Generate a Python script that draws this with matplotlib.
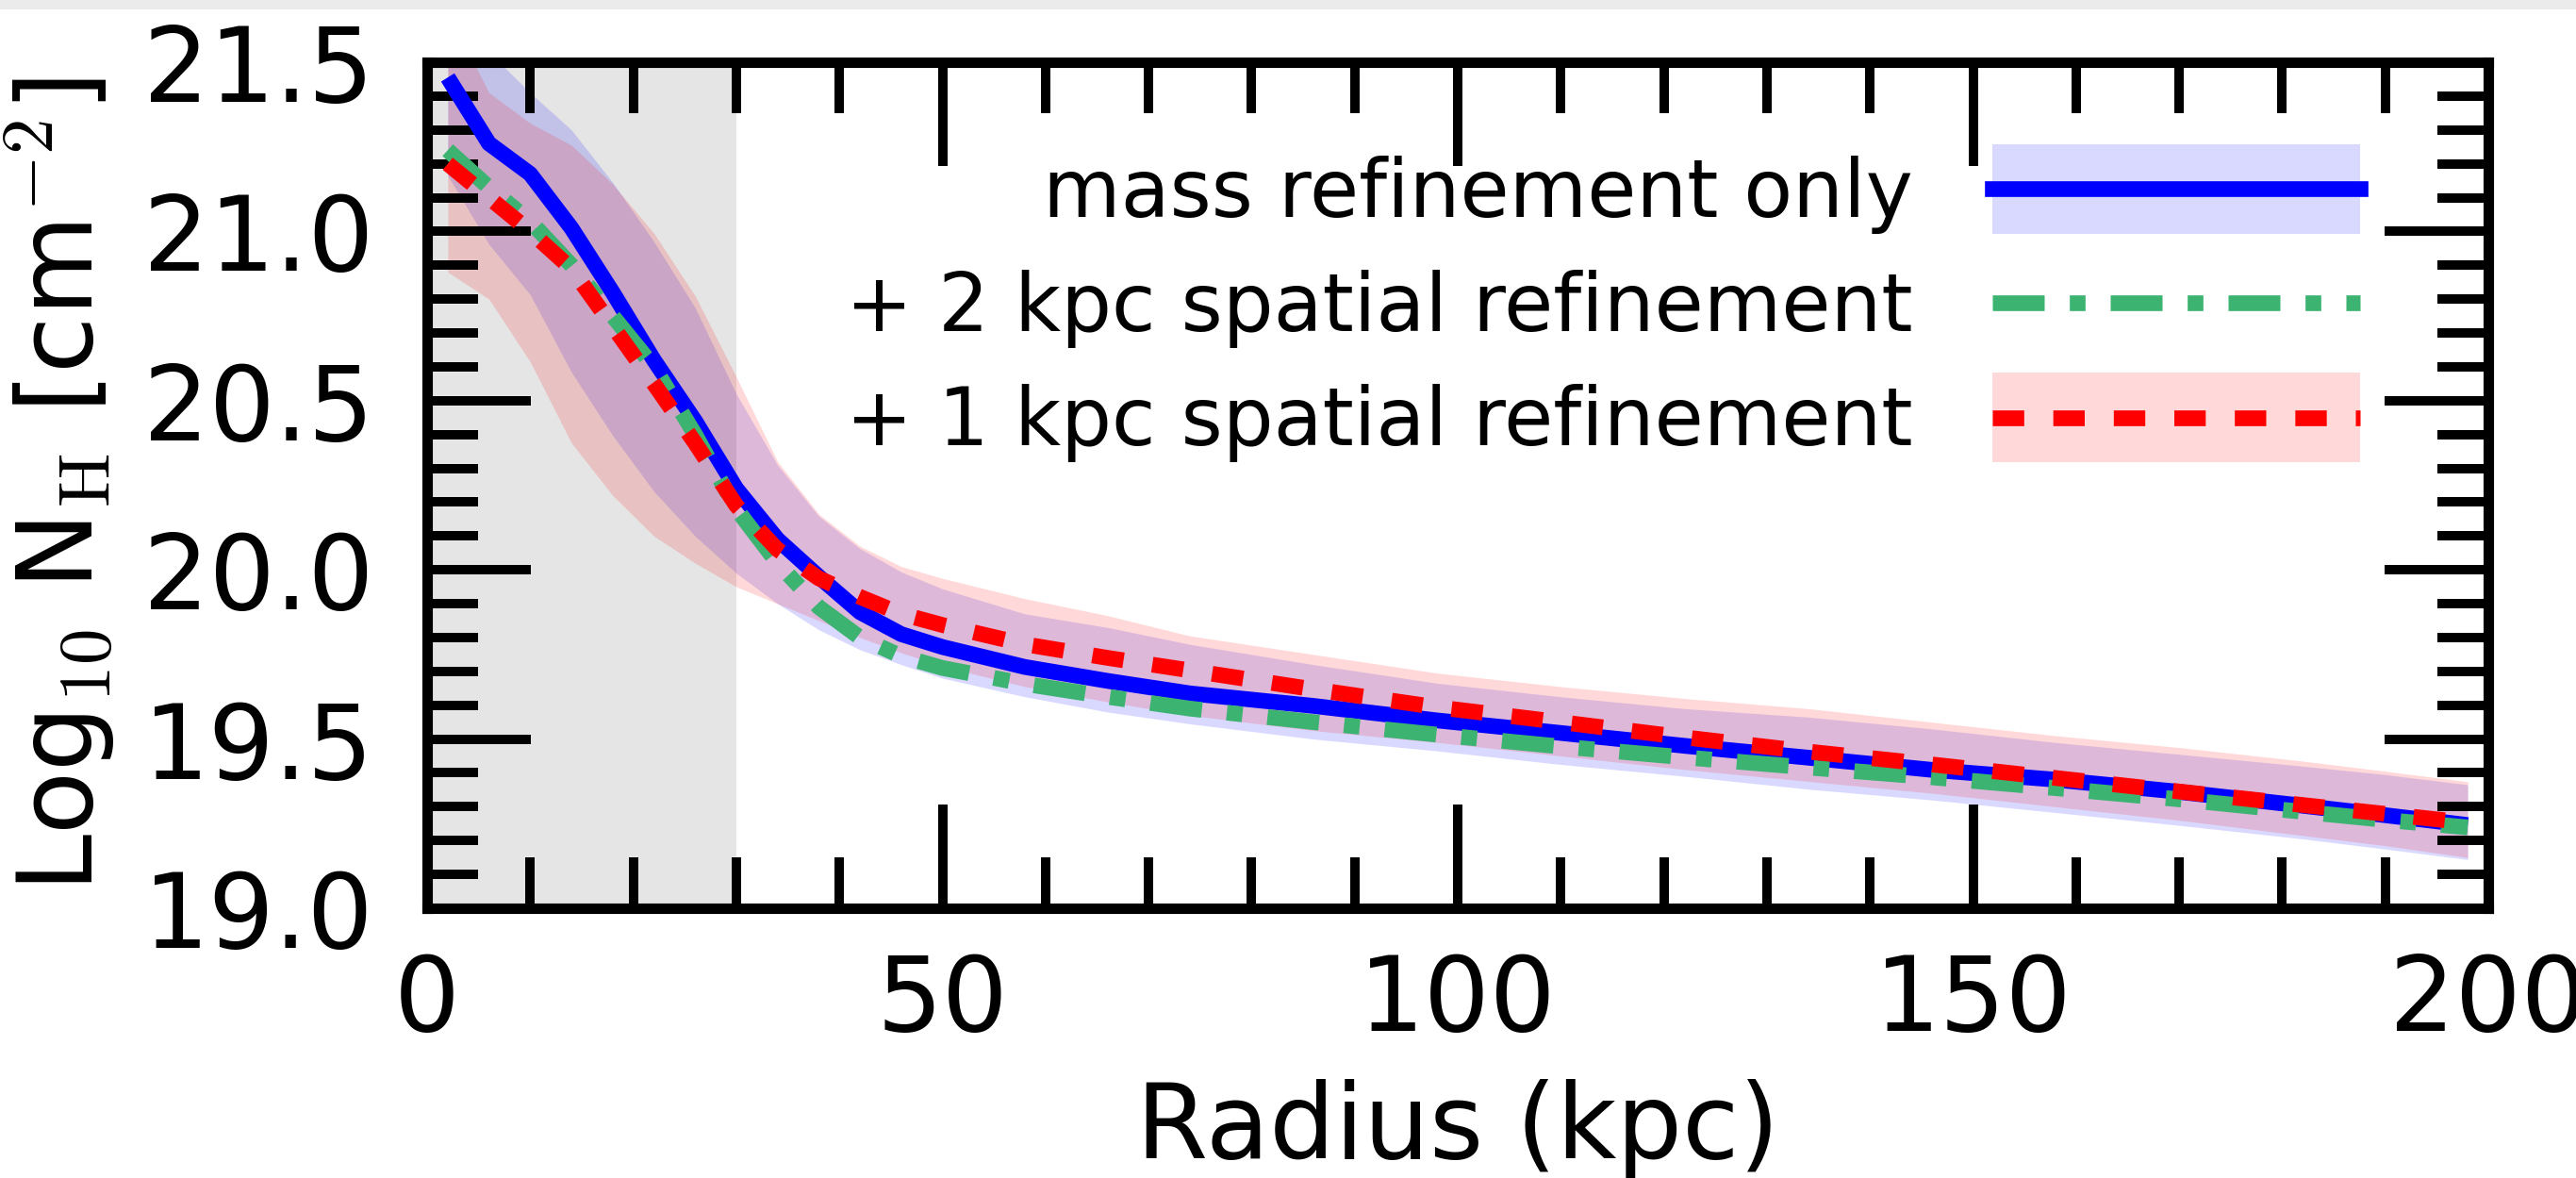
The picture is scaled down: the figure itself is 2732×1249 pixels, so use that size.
import matplotlib
matplotlib.use('Agg')
import matplotlib.pyplot as plt
import matplotlib.patches as mpatches
from matplotlib.lines import Line2D
from matplotlib.ticker import MultipleLocator, FormatStrFormatter
from matplotlib.legend_handler import HandlerPatch, HandlerTuple

# ---------------- data ----------------
radius = [2, 6, 10, 14, 18, 22, 26, 30, 34, 38, 42, 46, 50, 58, 66, 74,
          86, 98, 110, 122, 134, 146, 158, 170, 182, 190, 198]

mass_mean = [21.455, 21.26, 21.17, 21.01, 20.82, 20.62, 20.44, 20.24, 20.09,
             19.98, 19.875, 19.81, 19.772, 19.713, 19.672, 19.635, 19.598,
             19.555, 19.518, 19.48, 19.445, 19.409, 19.38, 19.344, 19.303,
             19.275, 19.246]
mass_hi = [21.60, 21.53, 21.41, 21.30, 21.145, 20.97, 20.775, 20.52, 20.31,
           20.159, 20.063, 19.994, 19.944, 19.87, 19.83, 19.78, 19.72, 19.665,
           19.625, 19.59, 19.565, 19.53, 19.49, 19.455, 19.42, 19.395, 19.365]
mass_lo = [21.165, 20.962, 20.813, 20.584, 20.397, 20.232, 20.10, 19.99, 19.90,
           19.823, 19.764, 19.72, 19.68, 19.625, 19.58, 19.545, 19.50, 19.465,
           19.425, 19.39, 19.352, 19.32, 19.283, 19.245, 19.205, 19.175, 19.144]

r2_mean = [21.24, 21.13, 21.03, 20.90, 20.75, 20.60, 20.40, 20.18, 20.02, 19.89,
           19.80, 19.745, 19.71, 19.663, 19.625, 19.59, 19.55, 19.513, 19.478,
           19.446, 19.416, 19.387, 19.355, 19.322, 19.285, 19.261, 19.239]

r1_mean = [21.20, 21.10, 21.00, 20.89, 20.72, 20.55, 20.375, 20.19, 20.06,
           19.975, 19.92, 19.87, 19.837, 19.78, 19.74, 19.703, 19.647, 19.594,
           19.55, 19.505, 19.463, 19.425, 19.385, 19.345, 19.305, 19.279, 19.253]
r1_hi = [21.65, 21.41, 21.32, 21.255, 21.14, 20.995, 20.81, 20.57, 20.32,
         20.165, 20.07, 20.01, 19.975, 19.915, 19.865, 19.805, 19.75, 19.695,
         19.655, 19.62, 19.59, 19.55, 19.51, 19.475, 19.435, 19.405, 19.374]
r1_lo = [20.88, 20.80, 20.615, 20.375, 20.22, 20.10, 20.02, 19.95, 19.90, 19.85,
         19.80, 19.755, 19.715, 19.655, 19.61, 19.57, 19.525, 19.49, 19.45,
         19.41, 19.375, 19.34, 19.30, 19.26, 19.215, 19.185, 19.15]

labels = ['mass refinement only', '+ 2 kpc spatial refinement',
          '+ 1 kpc spatial refinement']
shade_range = [0, 30]

# ---------------- style ----------------
plt.rcParams['font.family'] = ['DejaVu Sans']
plt.rcParams['mathtext.fontset'] = 'cm'

W, H = 2732, 1249
fig = plt.figure(figsize=(W / 100, H / 100), dpi=100)
fig.patch.set_facecolor('white')
# light grey strip at the very top of the image
fig.add_artist(mpatches.Rectangle((0, 1 - 10 / H), 1, 10 / H,
                                  transform=fig.transFigure,
                                  facecolor='#ebebeb', edgecolor='none',
                                  zorder=-1))

L, R, T, B = 453, 2639, 66, 963
ax = fig.add_axes([L / W, 1 - B / H, (R - L) / W, (B - T) / H])

ax.axvspan(shade_range[0], shade_range[1], color='0.5', alpha=0.2, lw=0, zorder=0)
ax.fill_between(radius, mass_lo, mass_hi, color='blue', alpha=0.15, lw=0)
ax.fill_between(radius, r1_lo, r1_hi, color='red', alpha=0.15, lw=0)

lw = 12
dashdot = (0, (3.3, 1.6, 1.0, 1.6))
dashed = (0, (2.0, 1.85))
ax.plot(radius, mass_mean, color='blue', lw=lw, solid_capstyle='butt')
ax.plot(radius, r2_mean, color='mediumseagreen', lw=lw, ls=dashdot)
ax.plot(radius, r1_mean, color='red', lw=lw, ls=dashed)

ax.set_xlim(0, 200)
ax.set_ylim(19.0, 21.5)
ax.xaxis.set_major_locator(MultipleLocator(50))
ax.xaxis.set_minor_locator(MultipleLocator(10))
ax.yaxis.set_major_locator(MultipleLocator(0.5))
ax.yaxis.set_minor_locator(MultipleLocator(0.1))
ax.yaxis.set_major_formatter(FormatStrFormatter('%.1f'))

for s in ax.spines.values():
    s.set_linewidth(8)
ax.tick_params(which='both', direction='in', top=True, right=True,
               width=7.2, labelsize=79)
ax.tick_params(which='major', length=79)
ax.tick_params(which='minor', length=39)
ax.tick_params(axis='x', which='major', pad=33)
ax.tick_params(axis='y', which='major', pad=41)

ax.set_xlabel('Radius (kpc)', fontsize=79)
ax.xaxis.set_label_coords(0.5, -0.202)
ax.set_ylabel(r'Log$_{10}$ N$_{\mathrm{H}}$ [cm$^{-2}$]', fontsize=79)
ax.yaxis.set_label_coords(-0.150, 0.5)

LEG_FS = 61
PATCH_H_PX = 95


def tall_patch(legend, orig_handle, xdescent, ydescent, width, height, fontsize):
    # rectangle centred on the legend line, taller than the default handle box
    hpx = PATCH_H_PX * 72.0 / fig.dpi
    yc = (height - ydescent) / 2.0
    return mpatches.Rectangle((-xdescent, yc - hpx / 2.0), width, hpx)


h_mass = (mpatches.Patch(facecolor='blue', alpha=0.15, edgecolor='none'),
          Line2D([], [], color='blue', lw=lw))
h_r2 = Line2D([], [], color='mediumseagreen', lw=lw, ls=dashdot)
h_r1 = (mpatches.Patch(facecolor='red', alpha=0.15, edgecolor='none'),
        Line2D([], [], color='red', lw=lw, ls=dashed))

ax.legend([h_mass, h_r2, h_r1], labels, loc='upper right',
          bbox_to_anchor=((2503 - L) / (R - L), (B - 165) / (B - T)),
          borderaxespad=0, borderpad=0, frameon=False, markerfirst=False,
          fontsize=LEG_FS, handlelength=4.6, handleheight=0.7,
          handletextpad=1.0, labelspacing=0.45,
          handler_map={mpatches.Patch: HandlerPatch(patch_func=tall_patch),
                       tuple: HandlerTuple(ndivide=1)})

fig.savefig('out.png', dpi=100)
